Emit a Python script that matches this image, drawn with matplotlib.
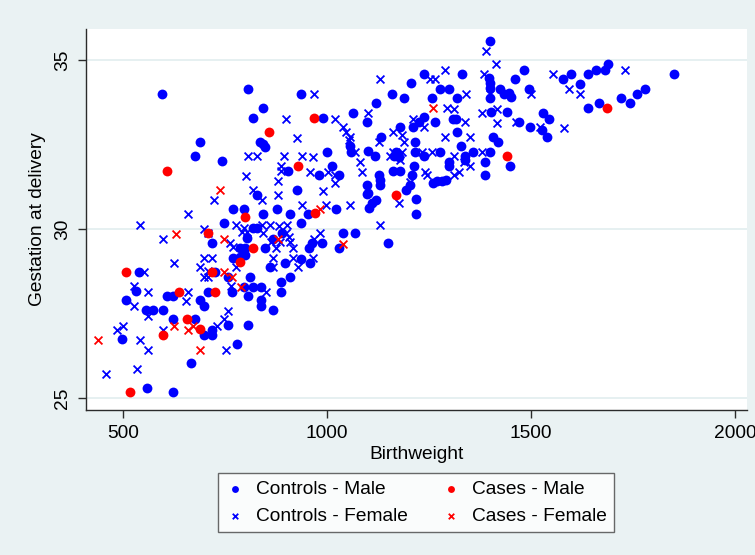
import matplotlib.pyplot as plt

# Controls - Male
cm_bw = [596, 808, 937, 843, 819, 690, 678, 835, 843, 849, 743, 905, 928, 829, 878, 771, 798, 843,
         909, 954, 747, 820, 829, 937, 719, 804, 788, 800, 800, 788, 849, 868, 890, 955, 958, 770,
         898, 937, 860, 540, 727, 759, 812, 909, 888, 533, 608, 622, 709, 768, 798, 819, 839, 808,
         839, 839, 888, 868, 508, 558, 575, 598, 688, 698, 622, 678, 759, 807, 698, 719, 719, 498,
         780, 667, 559, 622,
         1399, 1484, 1237, 1331, 1397, 1400, 1400, 1460, 1206, 1278, 1298, 1425, 1494, 1433, 1446,
         1451, 1160, 1188, 1258, 1319, 1400, 1120, 1441, 1402, 1064, 1310, 1316, 1266, 1237, 1225,
         1099, 990, 1470, 1530, 1543, 1498, 1527, 1538, 1211, 1180, 1319, 1133, 1217, 1408, 1419,
         1057, 1059, 1329, 1000, 1100, 1170, 1217, 1239, 1278, 1358, 1400, 1119, 1165, 1176, 1339,
         1339, 1388, 1388, 1448, 1299, 1299, 1214, 1127, 1129, 1163, 1178, 1209, 1259, 1270, 1282,
         1292, 1204, 1098, 1100, 1131, 1013, 1029, 980, 1195, 1218, 1098, 1120, 1111, 1102, 1023,
         1218, 964, 989, 1039, 1068, 1029, 1149,
         1578, 1599, 1619, 1639, 1660, 1680, 1689, 1849, 1639, 1667, 1721, 1743, 1760, 1780]
cm_ga = [33.99, 34.14, 33.99, 33.57, 33.28, 32.57, 32.16, 32.57, 32.53, 32.43, 32.00, 31.72, 31.16,
         31.00, 30.58, 30.58, 30.58, 30.43, 30.43, 30.44, 30.17, 30.02, 30.02, 30.17, 29.59, 29.72,
         29.43, 29.43, 29.23, 29.18, 29.43, 29.69, 29.87, 29.43, 29.00, 29.13, 29.00, 29.10, 28.88,
         28.74, 28.74, 28.59, 28.59, 28.59, 28.44, 28.17, 28.02, 28.02, 28.14, 28.14, 28.29, 28.29,
         28.29, 28.02, 27.90, 27.72, 28.14, 27.60, 27.90, 27.60, 27.60, 27.60, 27.90, 27.72, 27.33,
         27.33, 27.16, 27.16, 26.86, 26.86, 27.01, 26.73, 26.60, 26.03, 25.30, 25.16,
         35.57, 34.72, 34.59, 34.59, 34.46, 34.31, 34.16, 34.44, 34.31, 34.14, 34.14, 34.14, 34.14,
         34.01, 34.03, 33.90, 33.99, 33.87, 33.87, 33.87, 33.87, 33.72, 33.47, 33.47, 33.44, 33.27,
         33.27, 33.17, 33.30, 33.17, 33.16, 33.28, 33.16, 33.44, 33.27, 33.01, 32.93, 32.73, 33.01,
         33.01, 32.86, 32.73, 32.58, 32.73, 32.58, 32.46, 32.29, 32.46, 32.29, 32.31, 32.29, 32.29,
         32.16, 32.29, 32.29, 32.29, 32.16, 32.16, 32.14, 32.16, 32.04, 31.99, 31.60, 31.87, 31.99,
         31.87, 31.87, 31.60, 31.45, 31.72, 31.72, 31.60, 31.35, 31.43, 31.43, 31.45, 31.30, 31.30,
         31.06, 31.30, 31.87, 31.60, 31.60, 31.15, 30.88, 31.03, 30.86, 30.76, 30.61, 30.58, 30.44,
         29.58, 29.59, 29.87, 29.87, 29.43, 29.59,
         34.44, 34.58, 34.28, 34.58, 34.70, 34.72, 34.87, 34.59, 33.57, 33.72, 33.87, 33.72, 33.99,
         34.14]

# Controls - Female
cf_bw = [901, 928, 806, 829, 896, 939, 888, 888, 802, 880, 724, 819, 841, 880, 938, 660, 543, 778,
         798, 792, 841, 861, 882, 902, 700, 710, 598, 763, 771, 804, 844, 907, 910, 918, 901, 863,
         886, 876, 698, 719, 778, 626, 869, 869, 918, 929, 690, 710, 551, 700, 710, 528, 563, 659,
         766, 851, 528, 561, 654, 759, 749, 731, 598, 487, 500, 543, 561, 754, 460, 535,
         1389, 1415, 1290, 1129, 1252, 1266, 1386, 1501, 1341, 969, 1400, 1380, 1417, 1294, 1312,
         1101, 1210, 1020, 1417, 1339, 1462, 1523, 1039, 1048, 1056, 1054, 1239, 1161, 1184, 1190,
         1290, 1351, 1128, 1380, 1070, 1082, 1086, 1154, 1162, 1184, 1180, 1233, 1258, 1311, 1336,
         1351, 1241, 1245, 1311, 1323, 1021, 1019, 1002, 959, 991, 966, 1203, 1176, 1057, 999,
         983, 968, 1129, 966, 1555, 1731, 1592, 1621, 1580]
cf_ga = [33.27, 32.70, 32.16, 32.16, 32.16, 32.16, 31.86, 31.72, 31.58, 31.42, 30.86, 31.15, 30.86,
         31.00, 30.71, 30.43, 30.12, 30.12, 30.02, 29.92, 30.12, 30.12, 30.09, 30.12, 29.99, 29.87,
         29.69, 29.58, 29.48, 29.92, 29.87, 29.77, 29.62, 29.43, 29.89, 29.62, 29.62, 29.43, 29.13,
         29.13, 28.88, 29.00, 29.13, 28.88, 29.13, 28.88, 28.88, 28.77, 28.74, 28.57, 28.57, 28.31,
         28.14, 28.14, 28.31, 28.14, 27.72, 27.42, 27.88, 27.58, 27.33, 27.13, 27.01, 27.01, 27.13,
         26.71, 26.42, 26.42, 25.72, 25.85,
         35.27, 34.87, 34.70, 34.44, 34.43, 34.43, 34.59, 33.99, 33.99, 33.99, 33.99, 33.44, 33.55,
         33.57, 33.54, 33.44, 33.27, 33.27, 33.13, 33.16, 33.16, 33.01, 33.01, 32.88, 32.73, 32.63,
         33.01, 32.86, 32.78, 32.58, 32.71, 32.71, 32.58, 32.29, 32.29, 31.99, 31.69, 32.16, 32.29,
         32.29, 32.04, 32.29, 32.29, 32.16, 31.99, 31.86, 31.69, 31.60, 31.60, 31.69, 31.60, 31.35,
         31.69, 31.69, 31.13, 32.14, 31.40, 30.76, 30.71, 30.71, 29.87, 29.69, 30.12, 29.13, 34.58,
         34.70, 34.13, 33.99, 33.00]

# Cases - Male
km_bw = [859, 609, 929, 799, 709, 819, 788, 508, 719, 637, 725, 657, 688, 598, 518, 970, 1169, 1440,
         1685, 969]
km_ga = [32.87, 31.72, 31.87, 30.35, 29.87, 29.43, 29.03, 28.74, 28.74, 28.14, 28.14, 27.33, 27.03,
         26.86, 25.16, 30.46, 31.00, 32.16, 33.57, 33.28]

# Cases - Female
kf_bw = [739, 630, 749, 880, 749, 768, 789, 625, 661, 672, 690, 439, 1260, 984, 1040]
kf_ga = [31.14, 29.85, 29.69, 29.69, 28.74, 28.57, 28.29, 27.13, 27.01, 27.13, 26.42, 26.71, 33.57,
         30.58, 29.56]

xticks = [500, 1000, 1500, 2000]
yticks = [25, 30, 35]

plt.rcParams['font.family'] = ['Liberation Sans', 'DejaVu Sans']
bg = '#EAF2F3'
dark = '#2b2b2b'
fs = 13.8

fig = plt.figure(figsize=(7.55, 5.55), dpi=100, facecolor=bg)
ax = fig.add_axes([86 / 755, 1 - 410 / 555, 661 / 755, 381 / 555])
ax.set_facecolor('white')

ax.scatter(cm_bw, cm_ga, s=50, marker='o', color='#0000FF', linewidths=0, label='Controls - Male')
ax.scatter(cf_bw, cf_ga, s=32, marker='x', color='#0000FF', linewidths=1.3, label='Controls - Female')
ax.scatter(km_bw, km_ga, s=50, marker='o', color='#FF0000', linewidths=0, label='Cases - Male')
ax.scatter(kf_bw, kf_ga, s=32, marker='x', color='#FF0000', linewidths=1.3, label='Cases - Female')

ax.set_xlim(410, 2029)
ax.set_ylim(24.64, 35.92)
ax.set_xticks(xticks)
ax.set_yticks(yticks)
ax.set_yticklabels([str(v) for v in yticks], rotation=90, va='center')
ax.grid(axis='y', color='#E2EDEF', lw=1.2)
ax.set_axisbelow(True)

for s in ['top', 'right']:
    ax.spines[s].set_visible(False)
for s in ['left', 'bottom']:
    ax.spines[s].set_color(dark)
    ax.spines[s].set_linewidth(1.0)
ax.tick_params(length=5.5, width=1.0, color=dark, labelsize=fs, labelcolor='black', pad=5)

ax.set_xlabel('Birthweight', fontsize=fs, labelpad=3)
ax.set_ylabel('Gestation at delivery', fontsize=fs, labelpad=6)

# legend: two columns below the plot, Stata style
h, l = ax.get_legend_handles_labels()
leg = fig.legend(h, l, ncol=2, loc='center', bbox_to_anchor=(416 / 755, 1 - 502.5 / 555),
                 fontsize=fs, frameon=True, fancybox=False, edgecolor='#444444',
                 markerscale=0.7, handletextpad=0.6, columnspacing=1.75,
                 labelspacing=0.5, borderpad=0.4, handlelength=1.0, borderaxespad=0)
leg.get_frame().set_linewidth(1.0)

fig.savefig('out.png', dpi=100, facecolor=bg)
